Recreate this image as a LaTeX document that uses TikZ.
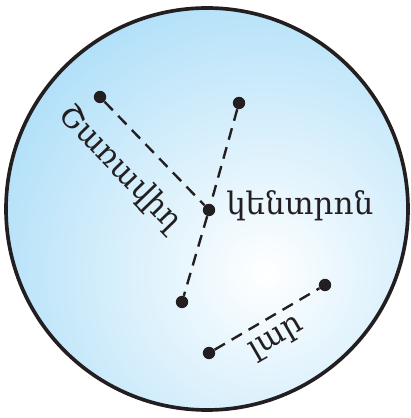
\documentclass[tikz,border=0pt]{standalone}
\usepackage{fontspec}
\newfontfamily\armfont{DejaVu Serif}
\definecolor{skyblue}{RGB}{112,198,243}
\definecolor{inkblack}{RGB}{35,31,32}
\begin{document}
\begin{tikzpicture}[x=0.025cm, y=0.025cm]
        \tikzstyle{dot}=[circle, fill=inkblack, inner sep=0pt, minimum size=0.31cm];
        \tikzstyle{dashline}=[inkblack, line width=1.7pt, dash pattern=on 8.5pt off 5.5pt];
        \tikzstyle{word}=[inkblack, inner sep=0pt, font=\armfont\fontsize{22}{26}\selectfont];

        \useasboundingbox (0,0) rectangle (411,418);

        % disc with light centre
        \begin{scope}
            \clip (207,209) circle (201);
            \shade[inner color=white, outer color=skyblue] (265,145) circle (530);
        \end{scope}
        \draw[inkblack, line width=2.6pt] (207,209) circle (201);

        % points
        \node[dot] (O) at (209,208) {};
        \node[dot] (R) at (100,321) {};
        \node[dot] (A) at (239,315) {};
        \node[dot] (B) at (182,116) {};
        \node[dot] (C) at (209,65) {};
        \node[dot] (D) at (325,133) {};

        \draw[dashline] (R) -- (O);
        \draw[dashline] (A) -- (O);
        \draw[dashline] (O) -- (B);
        \draw[dashline] (C) -- (D);

        % labels
        \node[word, anchor=west] (center) at (226,212) {կենտրոն};
        \node[word, rotate=-46] (radius) at (120,249) {Շառավիղ};
        \node[word, rotate=30] (chord) at (277,79) {լար};
    \end{tikzpicture}
\end{document}
